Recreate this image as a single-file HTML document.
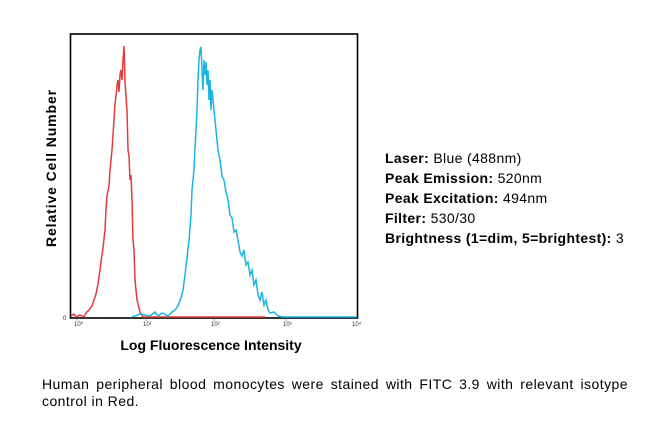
<!DOCTYPE html>
<html><head><meta charset="utf-8"><style>
body{margin:0;background:#fff;width:658px;height:441px;overflow:hidden;position:relative;font-family:"Liberation Sans",Arial,sans-serif;}
.info{position:absolute;left:385px;top:148px;font-size:14px;letter-spacing:0.35px;line-height:20px;color:#000;white-space:nowrap;}
.cap{position:absolute;left:42px;top:376px;width:586px;font-size:14px;letter-spacing:0.45px;line-height:17px;text-align:justify;color:#000;}
</style></head><body>
<svg width="658" height="441" style="position:absolute;left:0;top:0">
<rect x="70.5" y="34" width="287" height="284" fill="none" stroke="#000" stroke-width="1.6"/>
<g font-size="6" fill="#333" font-family="Liberation Sans,sans-serif">
<text x="63" y="320">0</text>
<text x="74" y="326">10⁰</text><text x="143" y="326">10¹</text><text x="211" y="326">10²</text><text x="283" y="326">10³</text><text x="352" y="326">10⁴</text>
</g>
<g stroke="#555" stroke-width="0.6"><line x1="77" y1="318" x2="77" y2="321"/><line x1="146" y1="318" x2="146" y2="321"/><line x1="214" y1="318" x2="214" y2="321"/><line x1="286" y1="318" x2="286" y2="321"/></g>
<polyline fill="none" stroke="#e83a3a" stroke-width="1.5" points="71,316 74,314 76,317 80,315 84,317 86,313 89,310 92,306 94,300 96,294 98,284 100,270 101,262 103,248 105,230 106,210 107,196 109,186 110,170 112,150 114,120 115,104 116,96 117,86 118,80 119,92 120,75 121,70 122,80 123,60 124,46 125,82 126,96 127,110 128,150 129,156 130,180 131,175 132,200 133,240 134,250 135,280 136,290 137,300 138,304 140,312 143,317 265,317"/>
<polyline fill="none" stroke="#1bb5e3" stroke-width="1.5" points="132,317 140,314 150,316 155,312 158,316 162,313 168,316 172,312 175,310 178,306 181,298 183,290 185,275 187,258 189,240 191,215 192,190 194,170 195,148 196,130 197,110 198,80 199,60 200,50 201,47 202,70 203,90 204,60 205,75 206,62 207,85 208,70 209,100 210,80 211,110 212,90 214,110 216,130 218,150 220,160 222,176 224,180 226,192 228,200 230,215 232,218 234,232 236,230 238,240 240,252 242,256 244,250 246,265 248,262 250,275 252,270 254,285 256,280 258,295 260,300 262,292 264,305 266,300 268,310 270,313 274,312 278,316 282,317 357,317"/>
<text x="211" y="350" font-size="14" font-weight="bold" text-anchor="middle" font-family="Liberation Sans,sans-serif">Log Fluorescence Intensity</text>
<text transform="translate(56,168) rotate(-90)" font-size="14" letter-spacing="0.9" font-weight="bold" text-anchor="middle" font-family="Liberation Sans,sans-serif">Relative Cell Number</text>
</svg>
<div class="info">
<div><b>Laser:</b> Blue (488nm)</div>
<div><b>Peak Emission:</b> 520nm</div>
<div><b>Peak Excitation:</b> 494nm</div>
<div><b>Filter:</b> 530/30</div>
<div><b>Brightness (1=dim, 5=brightest):</b> 3</div>
</div>
<div class="cap">Human peripheral blood monocytes were stained with FITC 3.9 with relevant isotype control in Red.</div>
</body></html>
